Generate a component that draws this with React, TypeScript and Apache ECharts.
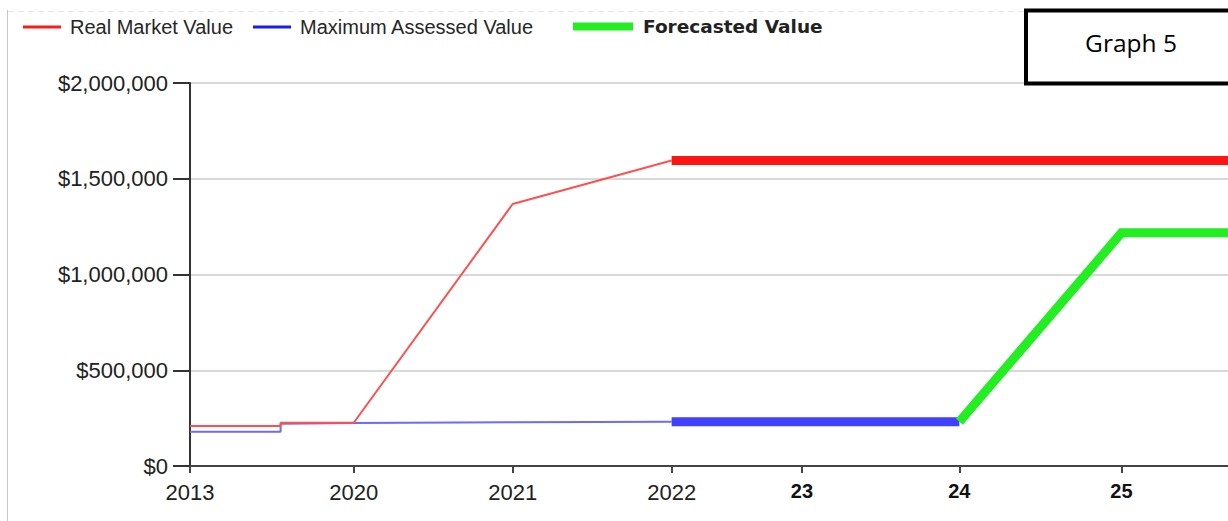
import React, { useEffect, useRef } from "react";
import * as echarts from "echarts";

// ---- data ----
const categories = ["2013", "2020", "2021", "2022", "23", "24", "25"];
const boldCategories = ["23", "24", "25"];
// horizontal position of each category on the (uneven) time axis
const categoryX = [0, 1.03, 2.03, 3.03, 3.85, 4.84, 5.86];
const axisEndX = 6.53;
// the early values change part-way between 2013 and 2020
const stepX = 0.57;

const realMarketX = [0, stepX, stepX, 1.03, 2.03, 3.03];
const realMarketValues = [209000, 209000, 226000, 226000, 1368000, 1595000];

const assessedX = [0, stepX, stepX, 1.03, 2.03, 3.03];
const assessedValues = [179000, 179000, 221000, 225000, 228000, 231000];

const realForecastX = [3.03, axisEndX];
const realForecastValues = [1595000, 1595000];

const assessedForecastX = [3.03, 4.84];
const assessedForecastValues = [231000, 231000];

const forecastX = [4.84, 5.86, axisEndX];
const forecastValues = [231000, 1218000, 1218000];

const yTicks = [0, 500000, 1000000, 1500000, 2000000];

const zip = (xs: number[], ys: number[]) => xs.map((x, i) => [x, ys[i]]);

const fmtMoney = (v: number) => "$" + Math.round(v).toLocaleString("en-US");

export default function App() {
  const ref = useRef<HTMLDivElement>(null);

  useEffect(() => {
    if (!ref.current) return;
    const chart = echarts.init(ref.current, undefined, { renderer: "svg" });
    const legendText = {
      fontFamily: "Liberation Sans, Arial, sans-serif",
      fontSize: 20,
      color: "#262626",
    };
    chart.setOption({
      animation: false,
      backgroundColor: "#ffffff",
      grid: { left: 190, right: 0, top: 83, bottom: 55, containLabel: false },
      legend: [
        {
          left: 23,
          top: 17,
          padding: 0,
          icon: "rect",
          itemWidth: 38,
          itemHeight: 3,
          data: [{ name: "Real Market Value", itemStyle: { color: "#ff1a1a" } }],
          textStyle: { ...legendText, padding: [0, 0, 0, 4] },
        },
        {
          left: 253,
          top: 17,
          padding: 0,
          icon: "rect",
          itemWidth: 38,
          itemHeight: 3,
          data: [{ name: "Maximum Assessed Value", itemStyle: { color: "#1a1aff" } }],
          textStyle: { ...legendText, padding: [0, 0, 0, 4] },
        },
        {
          left: 573,
          top: 17,
          padding: 0,
          icon: "rect",
          itemWidth: 60,
          itemHeight: 8,
          data: [{ name: "Forecasted Value", itemStyle: { color: "#22ee22" } }],
          textStyle: {
            fontFamily: "DejaVu Sans, sans-serif",
            fontWeight: "bold",
            fontSize: 18.5,
            color: "#222",
            padding: [2, 0, 0, 5],
          },
        },
      ],
      xAxis: {
        type: "value",
        min: 0,
        max: axisEndX,
        axisLine: { show: true, lineStyle: { color: "#444", width: 2 } },
        axisTick: {
          show: true,
          customValues: categoryX,
          length: 7,
          lineStyle: { color: "#444", width: 2 },
        },
        splitLine: { show: false },
        axisLabel: {
          customValues: categoryX,
          margin: 15,
          formatter: (v: number) => {
            const i = categoryX.findIndex((x) => Math.abs(x - v) < 1e-6);
            if (i < 0) return "";
            const c = categories[i];
            return boldCategories.includes(c) ? `{b|${c}}` : `{n|${c}}`;
          },
          rich: {
            n: {
              fontFamily: "Liberation Sans, Arial, sans-serif",
              fontSize: 22,
              color: "#222",
            },
            b: {
              fontFamily: "Liberation Sans Narrow, Liberation Sans, Arial, sans-serif",
              fontSize: 20,
              fontWeight: "bold",
              color: "#111",
            },
          },
        },
      },
      yAxis: {
        type: "value",
        min: yTicks[0],
        max: yTicks[yTicks.length - 1],
        interval: 500000,
        axisLine: { show: true, lineStyle: { color: "#333", width: 2 } },
        axisTick: { show: true, length: 17, lineStyle: { color: "#333", width: 2 } },
        splitLine: { show: true, lineStyle: { color: "#d9d9d9", width: 2 } },
        axisLabel: {
          margin: 22,
          fontFamily: "Liberation Sans, Arial, sans-serif",
          fontSize: 22,
          color: "#222",
          formatter: (v: number) => fmtMoney(v),
        },
      },
      series: [
        {
          name: "Real Market Value",
          type: "line",
          data: zip(realMarketX, realMarketValues),
          showSymbol: false,
          lineStyle: { color: "#ff5050", width: 2 },
          itemStyle: { color: "#ff1a1a" },
          z: 3,
        },
        {
          name: "Maximum Assessed Value",
          type: "line",
          data: zip(assessedX, assessedValues),
          showSymbol: false,
          lineStyle: { color: "#6b6bff", width: 2 },
          itemStyle: { color: "#1a1aff" },
          z: 2,
        },
        {
          name: "Real Market Value",
          type: "line",
          data: zip(realForecastX, realForecastValues),
          showSymbol: false,
          lineStyle: { color: "#ff1414", width: 9, cap: "butt" },
          itemStyle: { color: "#ff1a1a" },
          z: 4,
        },
        {
          name: "Maximum Assessed Value",
          type: "line",
          data: zip(assessedForecastX, assessedForecastValues),
          showSymbol: false,
          lineStyle: { color: "#4040ff", width: 9, cap: "butt" },
          itemStyle: { color: "#1a1aff" },
          z: 4,
        },
        {
          name: "Forecasted Value",
          type: "line",
          data: zip(forecastX, forecastValues),
          showSymbol: false,
          lineStyle: { color: "#22ee22", width: 9, cap: "butt", join: "miter" },
          itemStyle: { color: "#22ee22" },
          z: 5,
        },
      ],
      graphic: [
        {
          type: "line",
          shape: { x1: 7.5, y1: 10, x2: 7.5, y2: 521 },
          style: { stroke: "#c8c8c8", lineWidth: 1 },
          silent: true,
        },
        {
          type: "line",
          shape: { x1: 8, y1: 11.5, x2: 1024, y2: 11.5 },
          style: { stroke: "#e6e6e6", lineWidth: 1, lineDash: [6, 4] },
          silent: true,
        },
        {
          type: "rect",
          shape: { x: 1026, y: 10.5, width: 210, height: 73 },
          style: { fill: "#ffffff", stroke: "#000000", lineWidth: 4 },
          z: 100,
        },
        {
          type: "text",
          x: 1131,
          y: 42,
          z: 101,
          style: {
            text: "Graph 5",
            fontFamily: "Open Sans, Noto Sans, sans-serif",
            fontSize: 24.5,
            fill: "#000",
            align: "center",
            verticalAlign: "middle",
          },
        },
      ],
    });
    return () => chart.dispose();
  }, []);

  return (
    <div
      ref={ref}
      style={{ position: "fixed", left: 0, top: 0, width: 1228, height: 521 }}
    />
  );
}
